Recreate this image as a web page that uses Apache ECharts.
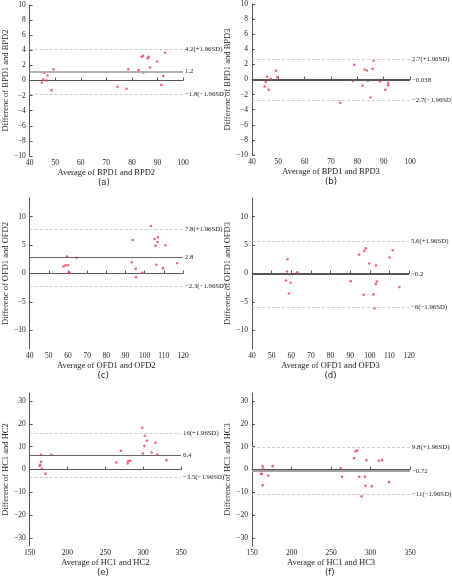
<!DOCTYPE html>
<html><head><meta charset="utf-8">
<script src="https://cdn.jsdelivr.net/npm/echarts@6/dist/echarts.min.js"></script>
<style>html,body{margin:0;padding:0;background:#fff}#c{width:452px;height:578px}</style>
</head><body><div id="c"></div>
<script>
// Panel (a) BPD1 vs BPD2
const aX = [44.8,45.3,45.7,46.7,47.0,48.6,49.3,74.4,77.9,78.6,82.6,83.8,84.4,84.5,86.2,86.6,87.1,89.9,91.5,92.3,93.0];
const aY = [-0.27,0.13,1.0,0.0,0.66,-1.28,1.5,-0.84,-1.1,1.5,1.37,3.14,3.27,1.02,2.96,3.14,1.73,2.52,-0.58,0.58,3.67];
const aLines = [4.2, 1.2, -1.8];
const aLabels = ['4.2(+1.96SD)', '1.2', '\u22121.8(\u22121.96SD)'];
// Panel (b) BPD1 vs BPD3
const bX = [44.8,45.3,45.7,46.3,47.1,49.1,49.6,73.5,78.3,78.8,82.0,82.7,83.6,84.0,85.0,85.8,86.2,88.6,90.6,91.7,91.7];
const bY = [-0.93,-0.31,0.35,-1.37,0.09,1.15,0.31,-3.09,-0.18,1.94,-0.79,1.32,1.19,-0.18,-2.38,1.41,2.52,-0.26,-1.37,-0.45,-0.75];
const bLines = [2.7, -0.038, -2.7];
const bLabels = ['2.7(+1.96SD)', '\u22120.038', '\u22122.7(\u22121.96SD)'];
// Panel (c) OFD1 vs OFD2
const cX = [57.6,58.7,59.5,60.0,60.5,60.8,64.5,93.3,93.8,95.3,95.5,98.8,103.2,105.2,105.7,106.1,106.7,106.9,109.6,110.8,117.0];
const cY = [1.23,1.46,2.98,1.46,0.23,0.06,2.75,1.99,5.9,0.82,-0.64,0.12,8.36,6.08,4.91,1.52,5.56,6.37,0.94,4.97,1.81];
const cLines = [7.8, 2.8, -2.3];
const cLabels = ['7.8(+1.96SD)', '2.8', '\u22122.3(\u22121.96SD)'];
// Panel (d) OFD1 vs OFD3
const dX = [57.3,57.8,58.1,58.8,59.0,59.7,63.1,90.3,94.6,96.9,97.3,98.0,99.7,101.9,102.4,103.1,103.2,103.6,110.0,111.7,115.1];
const dY = [-1.23,0.35,2.51,-3.51,-0.12,-1.64,0.23,-1.35,3.33,-3.74,3.98,4.44,1.75,-3.68,-6.14,-1.87,1.40,-1.40,2.81,4.09,-2.40];
const dLines = [5.6, -0.2, -6];
const dLabels = ['5.6(+1.96SD)', '\u22120.2', '\u22126(\u22121.96SD)'];
// Panel (e) HC1 vs HC2
const eX = [163.2,164.1,165.0,165.0,166.2,170.9,178.6,264.5,270.5,279.5,280.3,282.9,298.7,299.6,301.7,302.1,305.1,311.1,316.2,318.8,330.8];
const eY = [1.6,2.05,6.44,3.37,0.29,-1.9,6.44,3.07,8.2,2.6,3.66,3.8,18.3,7.0,10.25,14.8,12.6,7.47,11.7,6.6,4.1];
const eLines = [16, 6.4, -3.5];
const eLabels = ['16(+1.96SD)', '6.4', '\u22123.5(\u22121.96SD)'];
// Panel (f) HC1 vs HC3
const fX = [161.3,162.6,163.4,163.4,164.3,170.6,176.1,262.2,263.9,279.4,281.1,283.2,285.7,288.7,292.9,293.7,294.9,301.7,310.5,314.7,323.5];
const fY = [-1.9,-2.0,1.46,-6.86,0.29,-2.63,1.46,0.58,-3.2,4.96,8.0,8.3,-3.2,-11.7,-3.2,-7.15,4.1,-7.3,3.8,4.1,-5.55];
const fLines = [9.8, -0.72, -11];
const fLabels = ['9.8(+1.96SD)', '\u22120.72', '\u221211(\u22121.96SD)'];

const panels = [
  {x:aX,y:aY,lines:aLines,labels:aLabels,xt:'Average of BPD1 and BPD2',yt:'Differenc of BPD1 and BPD2',tag:'(a)',
   grid:{left:25,top:5,width:158,height:151},xr:[40,100,10],yr:[-10,10],yv:[-10,-8,-6,-4,-2,0,2,4,6,8,10],mc:'#b0b0b0',mw:2},
  {x:bX,y:bY,lines:bLines,labels:bLabels,xt:'Average of BPD1 and BPD3',yt:'Differenc of BPD1 and BPD3',tag:'(b)',
   grid:{left:252,top:4,width:158,height:151},xr:[40,100,10],yr:[-10,10],yv:[-10,-8,-6,-4,-2,0,2,4,6,8,10],mc:'#555',mw:1.2},
  {x:cX,y:cY,lines:cLines,labels:cLabels,xt:'Average of OFD1 and OFD2',yt:'Differenc of OFD1 and OFD2',tag:'(c)',
   grid:{left:24,top:198,width:159,height:151},xr:[40,120,10],yr:[-13.3,13.3],yv:[-10,-5,0,5,10],mc:'#666',mw:1.2},
  {x:dX,y:dY,lines:dLines,labels:dLabels,xt:'Average of OFD1 and OFD3',yt:'Differenc of OFD1 and OFD3',tag:'(d)',
   grid:{left:252,top:198,width:157,height:151},xr:[40,120,10],yr:[-13.3,13.3],yv:[-10,-5,0,5,10],mc:'#555',mw:1.2},
  {x:eX,y:eY,lines:eLines,labels:eLabels,xt:'Average of HC1 and HC2',yt:'Differenc of HC1 and HC2',tag:'(e)',
   grid:{left:25,top:393,width:156,height:153},xr:[150,350,50],yr:[-33.5,33.5],yv:[-30,-20,-10,0,10,20,30],mc:'#666',mw:1.2},
  {x:fX,y:fY,lines:fLines,labels:fLabels,xt:'Average of HC1 and HC3',yt:'Differenc of HC1 and HC3',tag:'(f)',
   grid:{left:252,top:393,width:158,height:153},xr:[150,350,50],yr:[-33.5,33.5],yv:[-30,-20,-10,0,10,20,30],mc:'#a0a0a0',mw:2}
];

const serif = '"Liberation Serif","Times New Roman",serif';
const minus = v => String(v).replace('-', '\u2212');
const axisLine = {show:true, lineStyle:{color:'#555', width:1}};
const grids=[], xAxes=[], yAxes=[], series=[], graphics=[];
panels.forEach((p,i)=>{
  grids.push(p.grid);
  xAxes.push({type:'value', gridIndex:i, min:p.xr[0], max:p.xr[1], interval:p.xr[2],
    axisLine:axisLine, axisTick:{inside:true,length:3,lineStyle:{color:'#555'}}, splitLine:{show:false},
    axisLabel:{fontFamily:serif,fontSize:7.5,color:'#222',margin:3,formatter:minus},
    name:p.xt, nameLocation:'middle', nameGap:10, nameTextStyle:{fontFamily:serif,fontSize:8.5,color:'#222',verticalAlign:'top'}});
  yAxes.push({type:'value', gridIndex:i, min:p.yr[0], max:p.yr[1],
    axisLine:axisLine, axisTick:{inside:true,length:3,customValues:p.yv,lineStyle:{color:'#555'}}, splitLine:{show:false},
    axisLabel:{fontFamily:serif,fontSize:7.5,color:'#222',margin:4,customValues:p.yv,formatter:minus},
    name:p.yt, nameLocation:'middle', nameGap:17, nameRotate:90, nameTextStyle:{fontFamily:serif,fontSize:8.5,color:'#222'}});
  const data = p.x.map((v,k)=>[v,p.y[k]]);
  series.push({type:'scatter', xAxisIndex:i, yAxisIndex:i, data:data, symbolSize:2.6, itemStyle:{color:'#e8405e'},
    silent:true, animation:false,
    markLine:{silent:true, symbol:['none','none'], animation:false,
      data:p.lines.map((v,k)=>({yAxis:v,
        lineStyle:k===1?{color:p.mc,width:p.mw,type:'solid'}:{color:'#cccccc',width:1,type:[3,2]},
        label:{show:true,position:'end',distance:2,formatter:p.labels[k],fontFamily:serif,fontSize:6.8,color:'#222'}}))}});
  graphics.push({type:'text', left:p.grid.left+p.grid.width/2-6, top:p.grid.top+p.grid.height+22,
    style:{text:p.tag, font:'8.5px "DejaVu Sans", sans-serif', fill:'#222'}});
});
const chart = echarts.init(document.getElementById('c'), null, {renderer:'canvas'});
chart.setOption({animation:false, grid:grids, xAxis:xAxes, yAxis:yAxes, series:series, graphic:graphics});
</script></body></html>
